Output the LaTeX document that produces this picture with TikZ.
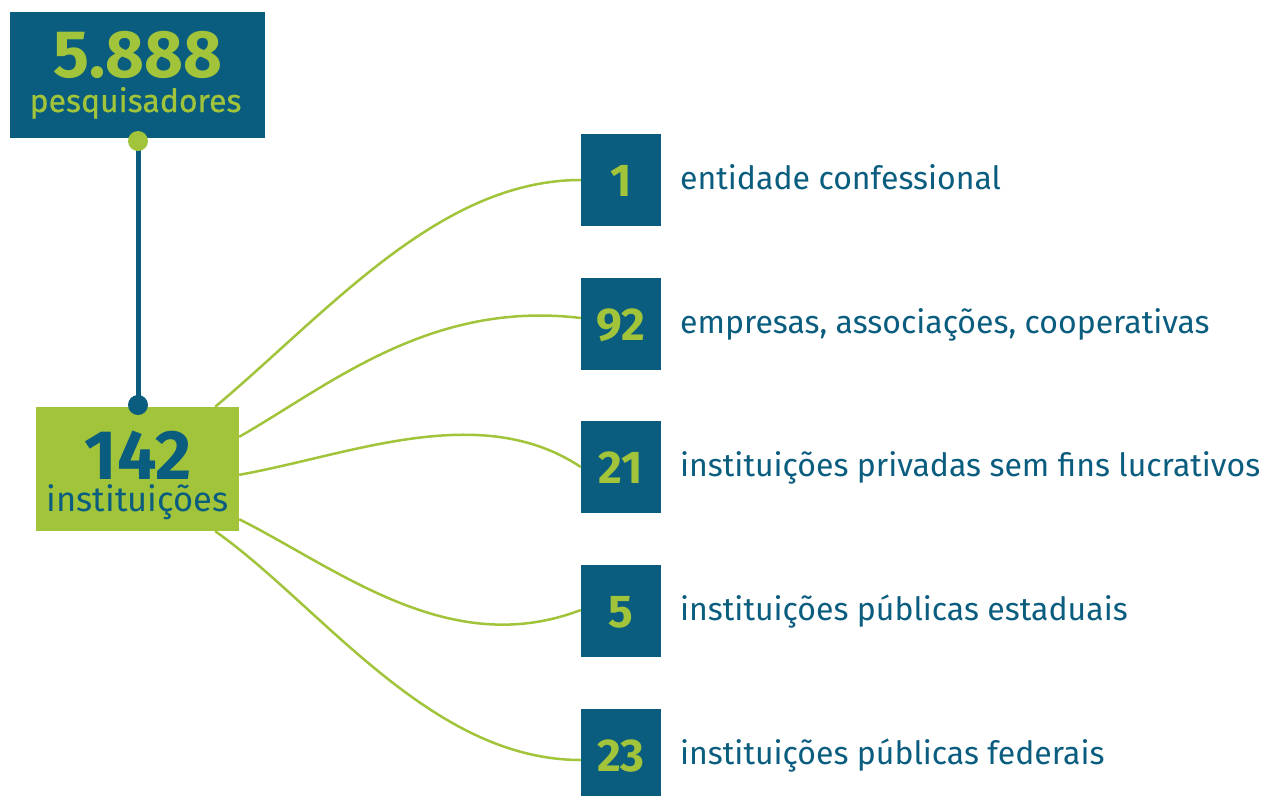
\documentclass[tikz,border=0pt]{standalone}
\usepackage{fontspec}
\setmainfont{Fira Sans}
\newfontfamily\medfont[FakeBold=0.6]{Fira Sans}
\usetikzlibrary{calc,backgrounds}
\definecolor{cTeal}{HTML}{0A5D7E}
\definecolor{cGreen}{HTML}{A1C43A}
\begin{document}
\begin{tikzpicture}[x=1pt,y=-1pt,
  numbox/.style={fill=cTeal, inner sep=0, minimum width=80pt, minimum height=92pt},
  numtxt/.style={anchor=base, text=cGreen, inner sep=0, text height=32pt, text depth=0pt, font=\fontsize{46}{46}\selectfont\bfseries},
  lbltxt/.style={anchor=base west, text=cTeal, inner sep=0, font=\fontsize{32}{32}\selectfont},
  link/.style={draw=cGreen, line width=2.5pt},
  dot/.style={circle, inner sep=0, minimum size=20pt}
]
\useasboundingbox (0,0) rectangle (1265,795);
\begin{scope}[on background layer]
\fill[white] (0,0) rectangle (1265,795);
\end{scope}

% top box
\node[fill=cTeal, inner sep=0, minimum width=255pt, minimum height=126pt] (res) at (137.5,75) {};
\node[anchor=base, text=cGreen, inner sep=0, text height=46pt, text depth=0pt, font=\fontsize{67}{67}\selectfont\bfseries] (resnum) at (138,77) {5.888};
\node[anchor=base, text=cGreen, inner sep=0, text height=18pt, text depth=7pt, font=\medfont\fontsize{32}{32}\selectfont] (reslbl) at (135.5,112) {pesquisadores};

% institutions box
\node[fill=cGreen, inner sep=0, minimum width=203pt, minimum height=124pt] (inst) at (137.5,469) {};
\node[anchor=base, text=cTeal, inner sep=0, text height=48pt, text depth=0pt, font=\fontsize{70}{70}\selectfont\bfseries] (instnum) at (138,479) {142};
\node[anchor=base, text=cTeal, inner sep=0, text height=18pt, text depth=7pt, font=\fontsize{34.5}{34.5}\selectfont] (instlbl) at (137.5,511) {instituições};

% dots and vertical connector
\node[dot, fill=cGreen] (gdot) at (138,141) {};
\node[dot, fill=cTeal] (ddot) at (138,405) {};
\begin{scope}[on background layer]
\draw[cTeal, line width=5pt] (gdot.center) -- (ddot.center);
\end{scope}

% right boxes
\node[numbox] (b1) at (621,180) {};
\node[numbox] (b2) at (621,324) {};
\node[numbox] (b3) at (621,467) {};
\node[numbox] (b4) at (621,611) {};
\node[numbox] (b5) at (621,755) {};

\node[numtxt] (n1) at (621,196) {1};
\node[numtxt] (n2) at (621,340) {92};
\node[numtxt] (n3) at (621,483) {21};
\node[numtxt] (n4) at (621,627) {5};
\node[numtxt] (n5) at (621,771) {23};

\node[lbltxt] (l1) at (680,189) {entidade confessional};
\node[lbltxt] (l2) at (680,333) {empresas, associações, cooperativas};
\node[lbltxt] (l3) at (680,476) {instituições privadas sem fins lucrativos};
\node[lbltxt] (l4) at (680,620) {instituições públicas estaduais};
\node[lbltxt] (l5) at (680,764) {instituições públicas federais};

% curved links
\draw[link] ($(inst.north east)+(-24,0)$) .. controls (330,310) and (440,180) .. (b1.west);
\draw[link] ($(inst.north east)+(0,30)$) .. controls (330,385) and (430,300) .. ($(b2.west)+(0,-6)$);
\draw[link] ($(inst.north east)+(0,68)$) .. controls (350,455) and (480,400) .. (b3.west);
\draw[link] ($(inst.south east)+(0,-12)$) .. controls (340,570) and (450,660) .. ($(b4.west)+(0,-1)$);
\draw[link] ($(inst.south east)+(-24,0)$) .. controls (320,605) and (430,760) .. ($(b5.west)+(0,5)$);
\end{tikzpicture}
\end{document}
